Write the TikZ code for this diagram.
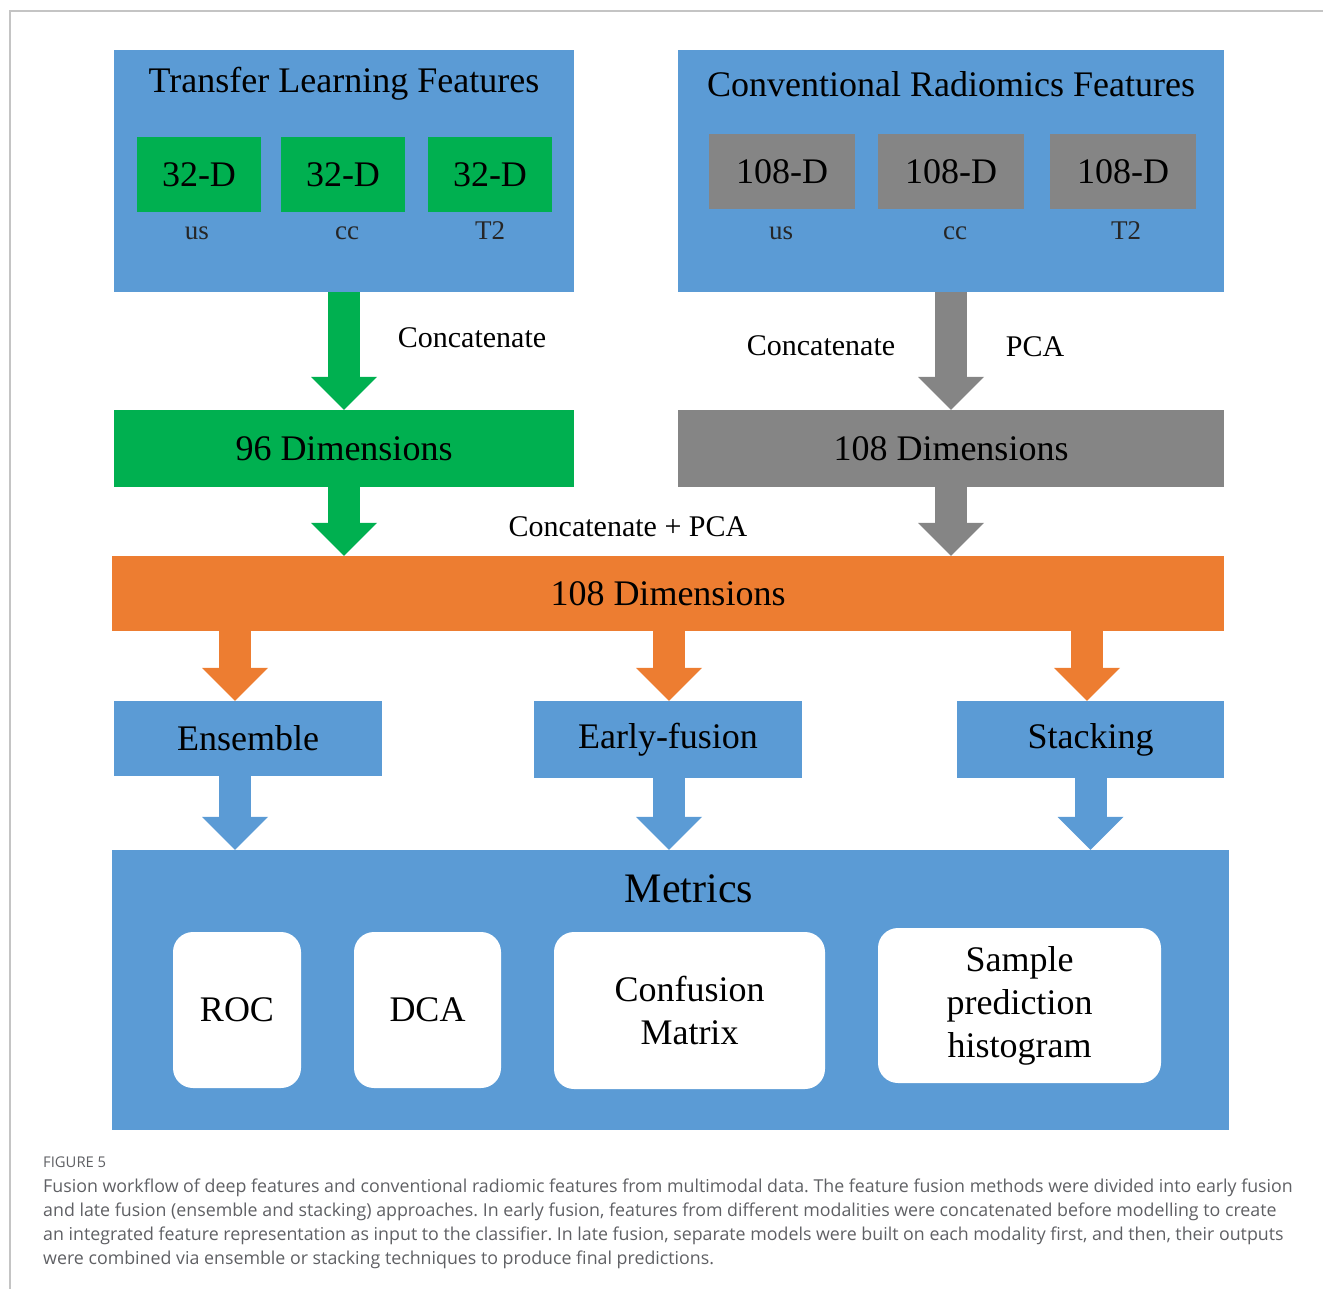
\documentclass[tikz,border=0pt]{standalone}
\usepackage{xcolor}
\usepackage{fontspec}
\setmainfont{Liberation Serif}
\newfontfamily\capfont{Open Sans}
\usetikzlibrary{arrows.meta}
\frenchspacing

\definecolor{boxblue}{HTML}{5B9BD5}
\definecolor{boxgreen}{HTML}{00B050}
\definecolor{boxgray}{HTML}{858585}
\definecolor{boxorange}{HTML}{ED7D31}
\definecolor{capgray}{HTML}{5F6064}
\definecolor{framegray}{HTML}{C4C4C4}

\tikzset{
    blk/.style={inner sep=0pt, text=black, font=\fontsize{36}{43}\selectfont},
    panel/.style={blk, fill=boxblue},
    cell/.style={blk, minimum width=#1, minimum height=75pt},
    tag/.style={inner sep=0pt, text=black!85, font=\fontsize{27}{30}\selectfont},
    note/.style={inner sep=0pt, text=black, font=\fontsize{30}{34}\selectfont},
    card/.style={blk, fill=white, rounded corners=20pt, align=center},
    flow/.style={line width=32pt, #1,
        -{Triangle[width=66pt, length=33pt, line width=0pt]}},
    capline/.style={inner sep=0pt, anchor=base west, text=capgray,
        font=\capfont\fontsize{17.8}{24}\selectfont}
}

\begin{document}
\begin{tikzpicture}[x=1pt, y=-1pt]
        \useasboundingbox (0,0) rectangle (1323,1289);

        % Figure frame
        \draw[framegray, line width=1.2pt] (1323,11) -- (10,11) -- (10,1289);

        % Two feature panels
        \node[panel, minimum width=460pt, minimum height=242pt] (tlf) at (344,171) {};
        \node[blk] (tlftitle) at (344,84) {Transfer Learning Features};
        \node[panel, minimum width=546pt, minimum height=242pt] (crf) at (951,171) {};
        \node[blk] (crftitle) at (951,84) {Conventional Radiomics Features};

        % Per modality feature vectors
        \node[cell=124pt, fill=boxgreen] (tl1) at (199,174.5) {32-D};
        \node[cell=124pt, fill=boxgreen] (tl2) at (343,174.5) {32-D};
        \node[cell=124pt, fill=boxgreen] (tl3) at (490,174.5) {32-D};
        \node[cell=146pt, fill=boxgray] (cr1) at (782,171.5) {108-D};
        \node[cell=146pt, fill=boxgray] (cr2) at (951,171.5) {108-D};
        \node[cell=146pt, fill=boxgray] (cr3) at (1123,171.5) {108-D};

        \node[tag] (tl1tag) at (197,233) {us};
        \node[tag] (tl2tag) at (347,233) {cc};
        \node[tag] (tl3tag) at (490,231) {T2};
        \node[tag] (cr1tag) at (781,233) {us};
        \node[tag] (cr2tag) at (955,233) {cc};
        \node[tag] (cr3tag) at (1126,231) {T2};

        % Reduced feature sets
        \node[blk, fill=boxgreen, minimum width=460pt, minimum height=77pt] (dimA) at (344,448.5) {96 Dimensions};
        \node[blk, fill=boxgray, minimum width=546pt, minimum height=77pt] (dimB) at (951,448.5) {108 Dimensions};
        \node[blk, fill=boxorange, minimum width=1112pt, minimum height=75pt] (fused) at (668,593.5) {108 Dimensions};

        % Fusion strategies
        \node[panel, minimum width=268pt, minimum height=75pt] (ens) at (248,738.5) {Ensemble};
        \node[panel, minimum width=268pt, minimum height=77pt] (early) at (668,739.5) {Early-fusion};
        \node[panel, minimum width=267pt, minimum height=77pt] (stack) at (1090.5,739.5) {Stacking};

        % Evaluation panel
        \node[panel, minimum width=1117pt, minimum height=280pt] (metrics) at (670.5,990) {};
        \node[blk, font=\fontsize{42}{48}\selectfont] (metricstitle) at (689,889) {Metrics};
        \node[card, minimum width=128pt, minimum height=156pt] (roc) at (237,1010) {ROC};
        \node[card, minimum width=147pt, minimum height=156pt] (dca) at (427.5,1010) {DCA};
        \node[card, minimum width=271pt, minimum height=157pt] (conf) at (689.5,1010.5) {Confusion\\Matrix};
        \node[card, minimum width=283pt, minimum height=155pt] (hist) at (1019.5,1005.5) {Sample\\prediction\\histogram};

        % Block arrows
        \draw[flow=boxgreen] (tlf.south) -- (dimA.north);
        \draw[flow=boxgray] (crf.south) -- (dimB.north);
        \draw[flow=boxgreen] (dimA.south) -- (dimA.south |- fused.north);
        \draw[flow=boxgray] (dimB.south) -- (dimB.south |- fused.north);
        \draw[flow=boxorange] ([xshift=-13pt]ens.north |- fused.south) -- ([xshift=-13pt]ens.north);
        \draw[flow=boxorange] ([xshift=1pt]early.north |- fused.south) -- ([xshift=1pt]early.north);
        \draw[flow=boxorange] ([xshift=-3.5pt]stack.north |- fused.south) -- ([xshift=-3.5pt]stack.north);
        \draw[flow=boxblue] ([xshift=-13pt]ens.south) -- ([xshift=-13pt]ens.south |- metrics.north);
        \draw[flow=boxblue] ([xshift=1pt]early.south) -- ([xshift=1pt]early.south |- metrics.north);
        \draw[flow=boxblue] (stack.south) -- (stack.south |- metrics.north);

        % Arrow labels
        \node[note] (catA) at (472,338) {Concatenate};
        \node[note] (catB) at (821,346) {Concatenate};
        \node[note] (pca) at (1035,347) {PCA};
        \node[note] (catpca) at (628,527) {Concatenate + PCA};

        % Caption
        \node[capline, font=\capfont\fontsize{14.8}{18}\selectfont] (capnum) at (43,1167) {FIGURE 5};
        \node[capline] (cap1) at (43,1192) {Fusion workflow of deep features and conventional radiomic features from multimodal data. The feature fusion methods were divided into early fusion};
        \node[capline] (cap2) at (43,1216) {and late fusion (ensemble and stacking) approaches. In early fusion, features from different modalities were concatenated before modelling to create};
        \node[capline] (cap3) at (43,1240) {an integrated feature representation as input to the classifier. In late fusion, separate models were built on each modality first, and then, their outputs};
        \node[capline] (cap4) at (43,1264) {were combined via ensemble or stacking techniques to produce final predictions.};
    \end{tikzpicture}
\end{document}
